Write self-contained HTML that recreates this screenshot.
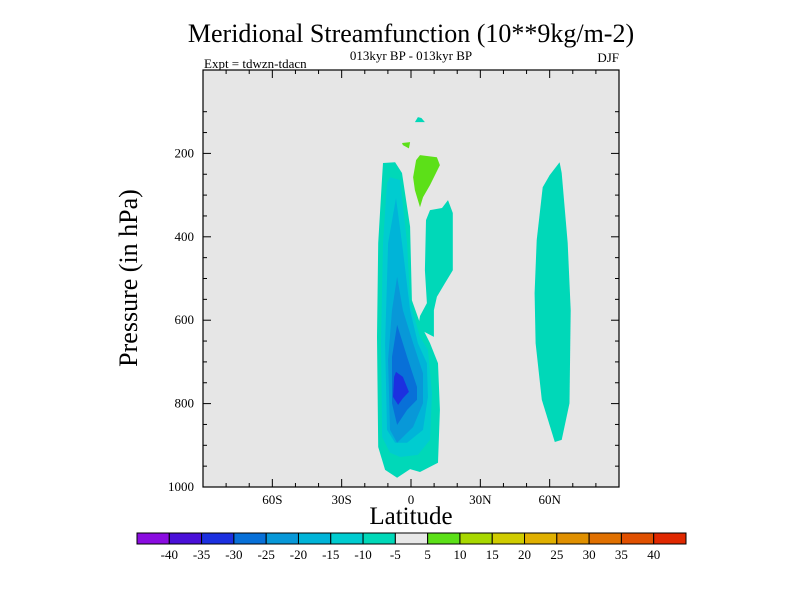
<!DOCTYPE html>
<html><head><meta charset="utf-8"><style>
html,body{margin:0;padding:0;background:#fff;}
svg{display:block;font-family:"Liberation Serif",serif;}
</style></head><body>
<svg id="chart" width="800" height="600" viewBox="0 0 800 600">
<text x="411" y="42" font-size="26" text-anchor="middle">Meridional Streamfunction (10**9kg/m-2)</text>
<text x="411" y="60" font-size="13" text-anchor="middle">013kyr BP - 013kyr BP</text>
<text x="204" y="68" font-size="13">Expt = tdwzn-tdacn</text>
<text x="619" y="62" font-size="13" text-anchor="end">DJF</text>
<rect x="203" y="70" width="416" height="417" fill="#e6e6e6"/>
<g id="contours"></g>
<g id="ticks"></g>
<rect x="203" y="70" width="416" height="417" fill="none" stroke="#000" stroke-width="1.2"/>
<text x="411" y="524" font-size="25" text-anchor="middle">Latitude</text>
<text transform="translate(137,278) rotate(-90)" font-size="26" text-anchor="middle">Pressure (in hPa)</text>
<g id="colorbar"></g>
</svg>
<script>
const latTicks=[-60,-30,0,30,60];
const latLabels=["60S","30S","0","30N","60N"];
const presTicks=[200,400,600,800,1000];
const cbLabels=["-40","-35","-30","-25","-20","-15","-10","-5","5","10","15","20","25","30","35","40"];
const cbColors=["#8a0ce0","#4a10d8","#1c30e0","#0870d8","#0898d8","#00b4d8","#00ccd0","#00d8b8","#e8e8e8","#5ce018","#a8d800","#d0cc00","#e0b000","#e09000","#e07000","#e05000","#e02800"];
const levelColor={"-30":"#1c30e0","-25":"#0870d8","-20":"#0898d8","-15":"#00b4d8","-10":"#00ccd0","-5":"#00d8b8","5":"#5ce018"};
const outerNeg5=[[-12.1,223],[-6.9,221],[-3.9,247],[-0.4,376],[0.4,552],[3.9,607],[8.2,655],[11.7,703],[12.5,815],[11.7,942],[3.9,964],[-0.4,957],[-6.0,978],[-11.2,959],[-14.2,904],[-14.7,640],[-14.2,415],[-12.5,257]];
const midNeg5=[[8.2,336],[13.4,331],[16.0,312],[18.1,343],[18.1,480],[14.7,511],[11.2,544],[9.9,576],[9.9,640],[3.0,620],[3.9,590],[6.9,559],[6.0,480],[6.5,360]];
const rightNeg5=[[64.3,221],[65.2,247],[67.8,415],[69.1,576],[68.6,799],[65.2,887],[62.2,892],[56.6,791],[53.9,655],[53.5,535],[54.4,408],[57.0,281],[60.0,252]];
const topNeg5=[[3,113],[4.5,115],[6,125],[1.7,125]];
const lvNeg10=[[-9.1,257],[-4.7,264],[-1.7,415],[-0.4,559],[3.9,640],[7.3,671],[9.1,775],[8.2,887],[3.0,923],[-4.7,928],[-9.1,918],[-12.5,880],[-13.0,655],[-12.1,415],[-10.4,271]];
const lvNeg15=[[-6.5,307],[-3.5,432],[-0.4,576],[3.0,655],[6.9,703],[7.3,784],[5.2,863],[-1.7,894],[-6.9,894],[-10.4,863],[-11.2,655],[-9.9,415]];
const lvNeg20=[[-6.0,496],[-3.5,576],[0.9,655],[5.2,727],[5.2,799],[0.9,856],[-6.0,894],[-9.1,863],[-9.9,695],[-8.2,576]];
const lvNeg25=[[-6.0,611],[-1.7,688],[2.6,760],[2.6,791],[-1.7,815],[-6.0,851],[-8.2,799],[-8.2,688]];
const lvNeg30=[[-6.5,724],[-3.5,736],[-0.9,772],[-3.5,787],[-5.6,803],[-7.8,784],[-7.3,736]];
const greenBig=[[3.9,204],[11.2,209],[12.5,228],[8.2,276],[5.2,305],[3.9,329],[1.7,288],[0.9,257],[2.2,216]];
const greenSmall=[[-3.9,175],[-0.4,173],[-0.9,188],[-3.5,180]];

const X0=203,X1=619,Y0=70,Y1=487;
const xs=lat=>X0+(lat+90)/180*(X1-X0);
const ys=p=>Y0+p/1000*(Y1-Y0);
const NS="http://www.w3.org/2000/svg";
function mk(tag,attrs,parent){const e=document.createElementNS(NS,tag);for(const k in attrs)e.setAttribute(k,attrs[k]);parent.appendChild(e);return e;}
const cg=document.getElementById('contours');
function poly(pts,lev,name){
  const e=mk('polygon',{points:pts.map(p=>xs(p[0]).toFixed(1)+','+ys(p[1]).toFixed(1)).join(' '),fill:levelColor[lev]},cg);
  
  
}
poly(outerNeg5,"-5","contour-left-minus5");
poly(midNeg5,"-5","contour-mid-minus5");
poly(rightNeg5,"-5","contour-right-minus5");
poly(topNeg5,"-5","contour-top-minus5");
poly(lvNeg10,"-10","contour-minus10");
poly(lvNeg15,"-15","contour-minus15");
poly(lvNeg20,"-20","contour-minus20");
poly(lvNeg25,"-25","contour-minus25");
poly(lvNeg30,"-30","contour-minus30");
poly(greenBig,"5","contour-plus5-upper");
poly(greenSmall,"5","contour-plus5-small");

const tg=document.getElementById('ticks');
for(let lat=-80;lat<=80;lat+=10){
  const major=lat%30===0;const L=major?8:4;const x=xs(lat);
  mk('line',{x1:x,y1:Y1,x2:x,y2:Y1-L,stroke:'#000'},tg);
  mk('line',{x1:x,y1:Y0,x2:x,y2:Y0+L,stroke:'#000'},tg);
}
for(let p=100;p<1000;p+=50){
  const major=p%200===0;const L=major?8:4;const y=ys(p);
  mk('line',{x1:X0,y1:y,x2:X0+L,y2:y,stroke:'#000'},tg);
  mk('line',{x1:X1,y1:y,x2:X1-L,y2:y,stroke:'#000'},tg);
}
latTicks.forEach((v,i)=>{
  const t=mk('text',{x:xs(v),y:Y1+17,'font-size':13,'text-anchor':'middle'},tg);t.textContent=latLabels[i];
  
  
});
presTicks.forEach(v=>{
  const t=mk('text',{x:X0-9,y:ys(v)+4,'font-size':13,'text-anchor':'end'},tg);t.textContent=v;
  
  
});
const cb=document.getElementById('colorbar');
const CB0=137,CB1=686,n=cbColors.length,w=(CB1-CB0)/n;
cbColors.forEach((c,i)=>{
  const r=mk('rect',{x:CB0+i*w,y:533,width:w,height:11,fill:c,stroke:'#000','stroke-width':1},cb);
  
  
});
cbLabels.forEach((l,i)=>{
  const t=mk('text',{x:CB0+(i+1)*w,y:559,'font-size':13,'text-anchor':'middle'},cb);t.textContent=l;
  
  
});
</script>
</body></html>
